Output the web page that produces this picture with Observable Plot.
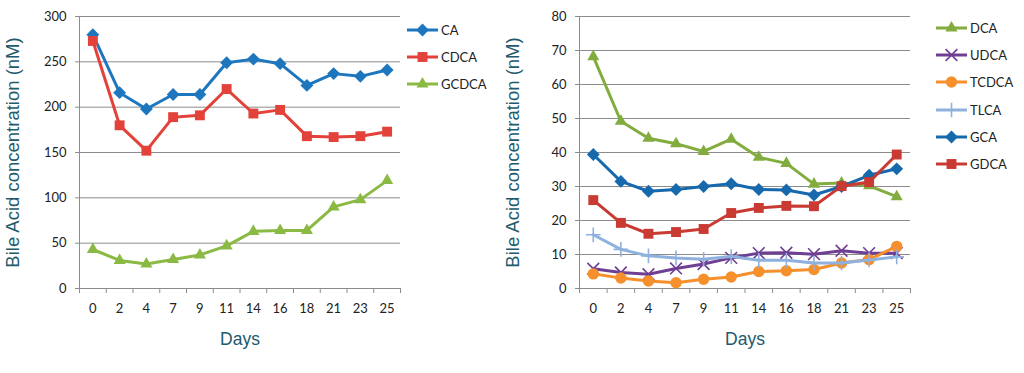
<!DOCTYPE html>
<html>
<head>
<meta charset="utf-8">
<script src="https://cdn.jsdelivr.net/npm/d3@7"></script>
<script src="https://cdn.jsdelivr.net/npm/@observablehq/plot@0.6"></script>
<style>
  html, body { margin: 0; padding: 0; background: #fff; }
  #wrap { position: relative; width: 1024px; height: 373px; overflow: hidden; }
  .chart { position: absolute; top: 0; }
  .legend { position: absolute; font-family: Lato, "Open Sans", sans-serif; font-size: 13px; color: #222; }
  .legend .row { position: absolute; left: 0; height: 20px; display: flex; align-items: center; white-space: nowrap; }
  .legend svg { display: block; margin-right: 2px; }
</style>
</head>
<body>
<div id="wrap"></div>
<script>
// ---------- data ----------
const days = ["0", "2", "4", "7", "9", "11", "14", "16", "18", "21", "23", "25"];

const leftTicks = [0, 50, 100, 150, 200, 250, 300];
const rightTicks = [0, 10, 20, 30, 40, 50, 60, 70, 80];

const caValues    = [280, 216, 198, 214, 214, 249, 253, 248, 224, 237, 234, 241];
const cdcaValues  = [273, 180, 152, 189, 191, 220, 193, 197, 168, 167, 168, 173];
const gcdcaValues = [43, 31, 27, 32, 37, 47, 63, 64, 64, 90, 98, 119];

const dcaValues   = [68.2, 49.2, 44.2, 42.6, 40.3, 43.9, 38.6, 36.8, 30.7, 31.0, 30.2, 27.0];
const udcaValues  = [5.8, 4.7, 4.2, 5.9, 7.2, 9.0, 10.4, 10.5, 10.1, 11.1, 10.4, 10.4];
const tcdcaValues = [4.3, 3.1, 2.2, 1.7, 2.7, 3.4, 5.0, 5.2, 5.6, 7.5, 8.5, 12.4];
const tlcaValues  = [15.8, 11.5, 9.6, 9.0, 8.6, 9.4, 8.3, 8.3, 7.5, 7.5, 8.4, 9.3];
const gcaValues   = [39.4, 31.5, 28.6, 29.1, 30.0, 30.8, 29.1, 29.0, 27.5, 30.0, 33.3, 35.2];
const gdcaValues  = [26.0, 19.3, 16.1, 16.6, 17.5, 22.2, 23.7, 24.3, 24.2, 30.1, 31.3, 39.4];

const leftSeries = [
  {name: "CA",    values: caValues,    color: "#1E77BE", symbol: "diamond2", r: 5.8, stroked: false},
  {name: "CDCA",  values: cdcaValues,  color: "#E2423A", symbol: "square2",  r: 6.3, stroked: false},
  {name: "GCDCA", values: gcdcaValues, color: "#8BBA44", symbol: "triangle2", r: 5.8, stroked: false}
];
const rightSeries = [
  {name: "DCA",   values: dcaValues,   color: "#82AD3E", symbol: "triangle2", r: 5.8, stroked: false},
  {name: "UDCA",  values: udcaValues,  color: "#6F3F93", symbol: "times",    r: 5.4, stroked: true},
  {name: "TCDCA", values: tcdcaValues, color: "#F5902C", symbol: "circle",   r: 5.7, stroked: false},
  {name: "TLCA",  values: tlcaValues,  color: "#8EB1DD", symbol: "plus",     r: 4.8, stroked: true},
  {name: "GCA",   values: gcaValues,   color: "#1769AE", symbol: "diamond2", r: 5.8, stroked: false},
  {name: "GDCA",  values: gdcaValues,  color: "#C93A32", symbol: "square2",  r: 6.3, stroked: false}
];

// ---------- drawing ----------
const titleColor = "#215A6C";
const gridColor = "#8C8C8C";
const titleFont = "'Liberation Sans', Arimo, Arial, sans-serif";
const indices = days.map((d, i) => i);
const boundaries = days.map((d, i) => i - 0.5).concat([days.length - 0.5]);

function seriesMarks(series) {
  const marks = [];
  for (const s of series) {
    const rows = days.map((d, i) => ({i, day: d, value: s.values[i]}));
    marks.push(Plot.line(rows, {x: "i", y: "value", stroke: s.color, strokeWidth: 3, strokeLinejoin: "round"}));
    if (s.stroked) {
      marks.push(Plot.dot(rows, {x: "i", y: "value", symbol: s.symbol, r: s.r, stroke: s.color, strokeWidth: 1.6, fill: "none"}));
    } else {
      marks.push(Plot.dot(rows, {x: "i", y: "value", symbol: s.symbol, r: s.r, fill: s.color, stroke: "none"}));
    }
  }
  return marks;
}

function makeChart(series, ticks, yMax, width, marginRight) {
  return Plot.plot({
    width, height: 373,
    marginLeft: 79, marginRight, marginTop: 16, marginBottom: 85,
    style: {fontFamily: "Lato, 'Open Sans', sans-serif", fontSize: "13px", background: "white", overflow: "visible"},
    x: {type: "linear", domain: [-0.5, days.length - 0.5]},
    y: {domain: [0, yMax]},
    marks: [
      Plot.gridY(ticks, {stroke: gridColor, strokeOpacity: 1, strokeWidth: 1}),
      Plot.ruleX([-0.5], {stroke: gridColor, strokeWidth: 1}),
      Plot.axisY({ticks, tickSize: 4, tickPadding: 9, stroke: gridColor, fill: "#222", fontSize: 13, label: null}),
      Plot.axisX({ticks: boundaries, tickSize: 5, stroke: gridColor, tickFormat: () => "", label: null}),
      Plot.axisX({ticks: indices, tickSize: 0, tickPadding: 15, fill: "#222", fontSize: 13, tickFormat: i => days[i], label: null}),
      ...seriesMarks(series),
      Plot.text(["Bile Acid concentration (nM)"], {frameAnchor: "left", dx: -66, rotate: -90, fontSize: 18.5, fontFamily: titleFont, fill: titleColor, textAnchor: "middle"}),
      Plot.text(["Days"], {frameAnchor: "bottom", dy: 56, fontSize: 17.5, fontFamily: titleFont, fill: titleColor, textAnchor: "middle"})
    ]
  });
}

const wrap = document.getElementById("wrap");

const left = makeChart(leftSeries, leftTicks, 300, 500, 100);
left.classList.add("chart");
left.style.left = "0px";
wrap.appendChild(left);

const right = makeChart(rightSeries, rightTicks, 80, 524, 114);
right.classList.add("chart");
right.style.left = "500px";
wrap.appendChild(right);

// ---------- legends ----------
function symbolPath(s) {
  const map = {diamond2: d3.symbolDiamond2, square2: d3.symbolSquare2, triangle2: d3.symbolTriangle2,
               circle: d3.symbolCircle, times: d3.symbolTimes, plus: d3.symbolPlus};
  return d3.symbol(map[s.symbol], Math.PI * s.r * s.r)();
}

function makeLegend(series, x, y0, step) {
  const div = document.createElement("div");
  div.className = "legend";
  div.style.left = x + "px";
  div.style.top = "0px";
  series.forEach((s, k) => {
    const row = document.createElement("div");
    row.className = "row";
    row.style.top = (y0 + k * step - 10) + "px";
    const svg = d3.create("svg").attr("width", 32).attr("height", 20);
    svg.append("line").attr("x1", 0).attr("x2", 31).attr("y1", 10).attr("y2", 10)
      .attr("stroke", s.color).attr("stroke-width", 3);
    const p = svg.append("path").attr("d", symbolPath(s)).attr("transform", "translate(15.5,10)");
    if (s.stroked) p.attr("fill", "none").attr("stroke", s.color).attr("stroke-width", 1.6);
    else p.attr("fill", s.color);
    row.appendChild(svg.node());
    const t = document.createElement("span");
    t.textContent = s.name;
    row.appendChild(t);
    div.appendChild(row);
  });
  wrap.appendChild(div);
}

makeLegend(leftSeries, 407, 30, 27);
makeLegend(rightSeries, 936, 28, 27.2);
</script>
</body>
</html>
